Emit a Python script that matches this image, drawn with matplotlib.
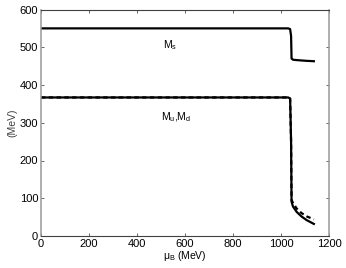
import matplotlib
matplotlib.use("Agg")
import matplotlib.pyplot as plt

plt.rcParams['font.family'] = ['Liberation Sans', 'DejaVu Sans']

# baryon chemical potential (MeV)
mu_B = [0, 1030, 1038, 1042, 1044, 1050, 1065, 1085, 1107, 1137]
# strange quark mass
M_s = [550, 550, 548, 530, 470, 467, 466, 465, 464, 463]
# light quark masses (solid / dashed)
M_ud = [367, 367, 364, 250, 91, 78, 64, 52, 42, 32]
M_ud2 = [367, 367, 364, 250, 95, 88, 73, 61, 52, 44]

fig = plt.figure(figsize=(3.46, 2.68), dpi=100)
ax = fig.add_axes([41/346, 1-236/268, 288/346, 226.5/268])

ax.plot(mu_B, M_s, color='black', lw=1.6)
ax.plot(mu_B, M_ud, color='black', lw=1.6)
ax.plot(mu_B, M_ud2, color='black', lw=1.6, ls=(0, (2, 1.5)))

ax.text(537, 506, r'M$_\mathregular{s}$', fontsize=7.5, ha='center', va='center')
ax.text(562, 315, r'M$_\mathregular{u}$,M$_\mathregular{d}$', fontsize=7.5, ha='center', va='center')

ax.set_xlim(0, 1200)
ax.set_ylim(0, 600)
ax.set_xticks([0, 200, 400, 600, 800, 1000, 1200])
ax.set_yticks([0, 100, 200, 300, 400, 500, 600])
ax.tick_params(direction='in', length=2.5, width=0.6, labelsize=8, pad=2,
               top=True, right=True, colors='0.3', labelcolor='black')
ax.set_xlabel(r'$\mathregular{\mu_B}$ (MeV)', fontsize=7.5, labelpad=0)
ax.set_ylabel('(MeV)', fontsize=7.5, labelpad=2, color='0.25')

for s in ['left', 'right']:
    ax.spines[s].set_color('0.6')
    ax.spines[s].set_linewidth(1.1)
for s in ['top', 'bottom']:
    ax.spines[s].set_color('0.25')
    ax.spines[s].set_linewidth(0.8)

fig.savefig('out.png', dpi=100)
